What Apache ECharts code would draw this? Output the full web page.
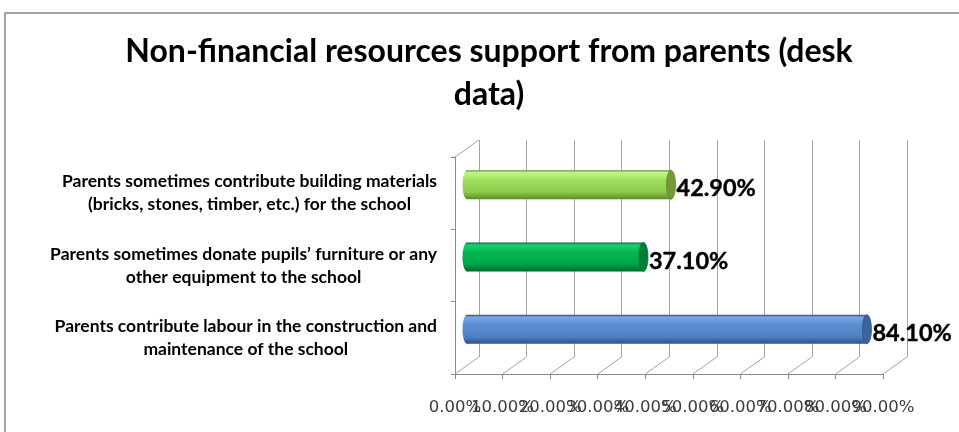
<!DOCTYPE html>
<html>
<head>
<meta charset="utf-8">
<script src="https://cdn.jsdelivr.net/npm/echarts@6/dist/echarts.min.js"></script>
<style>html,body{margin:0;padding:0;background:#fff}#c{width:959px;height:432px}</style>
</head>
<body>
<div id="c"></div>
<script>
const titleText = 'Non-financial resources support from parents (desk\ndata)';
const categories = [
  'Parents sometimes contribute building materials\n(bricks, stones, timber, etc.) for the school',
  'Parents sometimes donate pupils\u2019 furniture or any\nother equipment to the school',
  'Parents contribute labour in the construction and\nmaintenance of the school'
];
const values = [42.9, 37.1, 84.1];
const tickValues = [0, 10, 20, 30, 40, 50, 60, 70, 80, 90];
const tickLabels = ['0.00%', '10.00%', '20.00%', '30.00%', '40.00%', '50.00%', '60.00%', '70.00%', '80.00%', '90.00%'];

const palette = [
  {top:'#c2f58c', mid:'#9fdf5c', low:'#8ccc4a', bot:'#5f8a2c', cap:'#74983c'},
  {top:'#1ad06e', mid:'#00b850', low:'#00a448', bot:'#006a2c', cap:'#007d38'},
  {top:'#7aa7e0', mid:'#5a8dd2', low:'#4f80c4', bot:'#2f5088', cap:'#3d6498'}
];
const DX = 24, DY = -17;
const gridColor = '#a3a3a3';
const axisColor = '#8a8a8a';

function grad(p){
  return new echarts.graphic.LinearGradient(0,0,0,1,[
    {offset:0,color:p.bot},{offset:0.08,color:p.top},{offset:0.35,color:p.mid},
    {offset:0.75,color:p.low},{offset:1,color:p.bot}]);
}

const chart = echarts.init(document.getElementById('c'), null, {renderer:'canvas'});
chart.setOption({
  backgroundColor:'#fff',
  animation:false,
  title:{
    text:titleText, left:489, top:30, textAlign:'center', padding:0,
    textStyle:{fontFamily:'Lato, sans-serif', fontWeight:'bold', fontSize:32, lineHeight:43, color:'#000'}
  },
  graphic:[{type:'rect', shape:{x:5,y:13,width:1000,height:600}, style:{fill:'none', stroke:'#868686', lineWidth:1.5}, silent:true, z:-10}],
  grid:[
    {left:455, right:76, top:157, bottom:58},
    {left:455+DX, right:76-DX, top:157+DY, bottom:58-DY},
    {left:455+DX/2, right:76-DX/2, top:157+DY/2, bottom:58-DY/2}
  ],
  xAxis:[
    {gridIndex:0, type:'value', min:0, max:90, interval:10,
      axisLine:{show:true, lineStyle:{color:axisColor, width:1}},
      axisTick:{show:true, length:5, lineStyle:{color:axisColor}},
      splitLine:{show:false},
      axisLabel:{show:false}},
    {gridIndex:1, type:'value', min:0, max:90, interval:10,
      axisLine:{show:false}, axisTick:{show:false}, axisLabel:{show:false},
      splitLine:{show:true, lineStyle:{color:gridColor, width:1}}},
    {gridIndex:2, type:'value', min:0, max:90, interval:10, show:false}
  ],
  yAxis:[
    {gridIndex:0, type:'category', data:categories, inverse:true,
      axisLine:{show:true, lineStyle:{color:axisColor, width:1}},
      axisTick:{show:true, length:4, lineStyle:{color:axisColor}},
      axisLabel:{margin:18, color:'#000', fontFamily:'Lato, sans-serif', fontWeight:'bold', fontSize:17.5, lineHeight:23,
        formatter:v=>v.split('\n').map(s=>'{c|'+s+'}').join('\n'),
        rich:{c:{align:'center', fontFamily:'Lato, sans-serif', fontWeight:'bold', fontSize:17.5, lineHeight:23, color:'#000'}}},
      splitLine:{show:false}},
    {gridIndex:1, type:'category', data:categories, inverse:true, show:false},
    {gridIndex:2, type:'category', data:categories, inverse:true, show:false}
  ],
  series:[
    {
      type:'custom', xAxisIndex:0, yAxisIndex:0, silent:true, z:1,
      data:tickValues.map(v=>[v]),
      renderItem:function(params, api){
        const cs = params.coordSys;
        const x = api.coord([api.value(0), 0])[0];
        const yb = cs.y + cs.height;
        return {type:'group', children:[
          {type:'line', shape:{x1:x, y1:yb, x2:x+DX, y2:yb+DY}, style:{stroke:gridColor, lineWidth:1}},
          {type:'text', x:x, y:yb+34, style:{text:tickLabels[params.dataIndex], fontFamily:'DejaVu Sans', fontSize:16.5, fill:'#3c3c3c', align:'center', verticalAlign:'middle'}}
        ]};
      }
    },
    {
      type:'custom', xAxisIndex:0, yAxisIndex:0, silent:true, z:1,
      data:[[0]],
      renderItem:function(params, api){
        const cs = params.coordSys;
        const x = api.coord([api.value(0), 0])[0];
        return {type:'line', shape:{x1:x, y1:cs.y, x2:x+DX, y2:cs.y+DY}, style:{stroke:gridColor, lineWidth:1}};
      }
    },
    {
      type:'custom', xAxisIndex:2, yAxisIndex:2, silent:true, z:5,
      data:values.map((v,i)=>[v,i]),
      renderItem:function(params, api){
        const v = api.value(0), c = api.value(1);
        const p = palette[params.dataIndex];
        const s = api.coord([0, c]), e = api.coord([v, c]);
        const h = 29, rx = 4.5, cy = s[1];
        return {type:'group', children:[
          {type:'ellipse', shape:{cx:s[0], cy:cy, rx:rx, ry:h/2}, style:{fill:grad(p)}},
          {type:'rect', shape:{x:s[0], y:cy-h/2, width:e[0]-s[0], height:h}, style:{fill:grad(p)}},
          {type:'ellipse', shape:{cx:e[0], cy:cy, rx:rx, ry:h/2}, style:{fill:p.cap, stroke:p.bot, lineWidth:0.8}},
          {type:'text', x:e[0]+rx+1, y:cy+4, style:{text:v.toFixed(2)+'%', fontFamily:'Lato, sans-serif', fontWeight:'bold', fontSize:23.5, fill:'#000', verticalAlign:'middle', align:'left', stroke:'#000', lineWidth:0.4}}
        ]};
      }
    }
  ]
});
</script>
</body>
</html>
